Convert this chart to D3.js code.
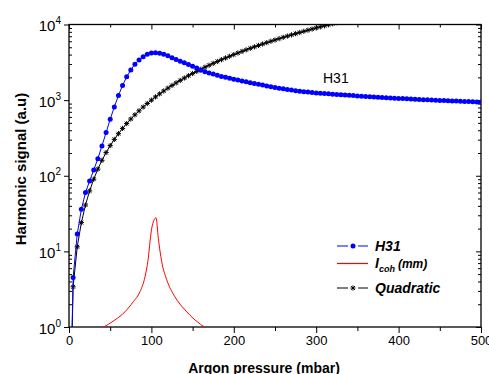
<!DOCTYPE html>
<html>
<head>
<meta charset="utf-8">
<script src="https://cdn.jsdelivr.net/npm/d3@7"></script>
<style>
  body { margin: 0; background: #fff; }
  svg { display: block; font-family: "Liberation Sans", Arial, sans-serif; }
</style>
</head>
<body>
<div id="chart-holder"></div>
<script>
// pressures (mbar) where H31 was measured, 0 is the start of the line only
var pressure = [0, 5, 10, 15, 20, 25, 30, 35, 40, 45, 50, 55, 60, 65, 70, 75, 80, 85, 90, 95, 100,
  105, 110, 115, 120, 125, 130, 135, 140, 145, 150, 155, 160, 165, 170, 175, 180, 185, 190, 195, 200,
  205, 210, 215, 220, 225, 230, 235, 240, 245, 250, 255, 260, 265, 270, 275, 280, 285, 290, 295, 300,
  305, 310, 315, 320, 325, 330, 335, 340, 345, 350, 355, 360, 365, 370, 375, 380, 385, 390, 395, 400,
  405, 410, 415, 420, 425, 430, 435, 440, 445, 450, 455, 460, 465, 470, 475, 480, 485, 490, 495, 500];

// H31 harmonic signal (a.u)
var h31 = [0.01, 4.5, 17, 36, 60, 85, 119, 168, 248, 372, 559, 813, 1150, 1560, 2030, 2510, 2990, 3400, 3760, 4050, 4200,
  4230, 4170, 4050, 3850, 3640, 3440, 3270, 3110, 2950, 2800, 2660, 2490, 2370, 2290, 2210, 2140, 2060, 2000, 1946, 1890,
  1840, 1790, 1745, 1703, 1660, 1620, 1580, 1540, 1505, 1470, 1440, 1410, 1383, 1357, 1333, 1312, 1293, 1276, 1260, 1246,
  1233, 1221, 1210, 1199, 1188, 1178, 1168, 1158, 1148, 1138, 1129, 1120, 1111, 1102, 1093, 1085, 1077, 1069, 1061, 1054,
  1047, 1040, 1033, 1027, 1021, 1015, 1009, 1003, 997, 992, 987, 982, 977, 972, 967, 962, 957, 952, 947, 942];

// quadratic reference (goes off the top near 320 mbar)
var quadratic = [0.01, 3.4, 11.5, 24, 41, 63, 90, 122.5, 160, 202.5, 250, 302.5, 360, 422.5, 490, 562.5, 640, 722.5, 810, 902.5, 1000,
  1102.5, 1210, 1322.5, 1440, 1562.5, 1690, 1822.5, 1960, 2102.5, 2250, 2402.5, 2560, 2722.5, 2890, 3062.5, 3240, 3422.5, 3610, 3802.5, 4000,
  4202.5, 4410, 4622.5, 4840, 5062.5, 5290, 5522.5, 5760, 6002.5, 6250, 6502.5, 6760, 7022.5, 7290, 7562.5, 7840, 8122.5, 8410, 8702.5, 9000,
  9302.5, 9610, 9922.5, 10240, 10562.5, 10890];

// coherence length curve
var cohPressure = [40, 55.8, 68, 78, 86.2, 92.2, 96.2, 98.3, 100.4, 105.6, 108.4, 112.5, 118.6, 128.6, 140.8, 152.9, 166];
var cohValue = [0.97, 1.24, 1.59, 2.16, 2.93, 4.6, 8.1, 13.4, 20.2, 27.9, 14.9, 7.3, 4.2, 2.5, 1.68, 1.24, 0.97];

var xTicks = [0, 100, 200, 300, 400, 500];
var xMinorTicks = [50, 150, 250, 350, 450];
var yTicks = [1, 10, 100, 1000, 10000];
var yExponents = ["0", "1", "2", "3", "4"];

var margin = { top: 24.5, right: 8, bottom: 47, left: 69 },
  width = 489 - margin.left - margin.right,
  height = 374 - margin.top - margin.bottom;

var svg = d3.select("#chart-holder")
  .append("svg")
  .attr("width", 489)
  .attr("height", 374)
  .append("g")
  .attr("transform", "translate(" + margin.left + "," + margin.top + ")");

var x = d3.scaleLinear().domain([0, 500]).range([0, width]);
var y = d3.scaleLog().domain([1, 10000]).range([height, 0]);

svg.append("clipPath").attr("id", "clip")
  .append("rect").attr("width", width).attr("height", height);

// minor log ticks
var yMinor = [];
yTicks.slice(0, 4).forEach(function (d) {
  for (var k = 2; k <= 9; k++) yMinor.push(d * k);
});

///////////////////////////////////////////////////////////////////////////////////////////
// axes
var bottomAxis = svg.append("g").attr("transform", "translate(0," + height + ")");
bottomAxis.call(d3.axisBottom(x).tickValues(xTicks).tickSize(6).tickPadding(3).tickFormat(d3.format("d")));
bottomAxis.append("g").call(d3.axisBottom(x).tickValues(xMinorTicks).tickSize(4).tickFormat(""));
bottomAxis.selectAll("text").style("font-size", "13px").style("fill", "#000");

var topAxis = svg.append("g");
topAxis.call(d3.axisBottom(x).tickValues(xTicks).tickSize(5).tickFormat(""));
topAxis.append("g").call(d3.axisBottom(x).tickValues(xMinorTicks).tickSize(3).tickFormat(""));

var leftAxis = svg.append("g");
leftAxis.call(d3.axisLeft(y).tickValues(yTicks).tickSize(5).tickFormat(""));
leftAxis.append("g").call(d3.axisRight(y).tickValues(yMinor).tickSize(3).tickFormat(""));

var rightAxis = svg.append("g").attr("transform", "translate(" + width + ",0)");
rightAxis.call(d3.axisLeft(y).tickValues(yTicks).tickSize(5).tickFormat(""));
rightAxis.append("g").call(d3.axisLeft(y).tickValues(yMinor).tickSize(3).tickFormat(""));

svg.selectAll(".domain").remove();
svg.selectAll(".tick line").style("stroke", "#000").style("stroke-width", 1);

svg.append("rect")
  .attr("width", width).attr("height", height)
  .style("fill", "none").style("stroke", "#000").style("stroke-width", 1.3);

// y tick labels as 10^n
yTicks.forEach(function (d, i) {
  var t = svg.append("text")
    .attr("x", -8).attr("y", y(d) + 6.5)
    .attr("text-anchor", "end")
    .style("font-size", "15px");
  t.append("tspan").text("10");
  t.append("tspan").attr("dy", -7).style("font-size", "10px").text(yExponents[i]);
});

svg.append("text")
  .attr("transform", "translate(" + (25.5 - margin.left) + "," + (169 - margin.top) + ")rotate(-90)")
  .attr("text-anchor", "middle")
  .style("font-size", "15px").style("font-weight", "bold")
  .text("Harmonic signal (a.u)");

svg.append("text")
  .attr("x", 264 - margin.left).attr("y", 373 - margin.top)
  .attr("text-anchor", "middle")
  .style("font-size", "14px").style("font-weight", "bold")
  .text("Argon pressure (mbar)");

///////////////////////////////////////////////////////////////////////////////////////////
// curves
var plot = svg.append("g").attr("clip-path", "url(#clip)");

var line = d3.line()
  .x(function (d) { return x(d[0]); })
  .y(function (d) { return y(d[1]); });

var quadData = quadratic.map(function (v, i) { return [pressure[i], v]; });
var h31Data = h31.map(function (v, i) { return [pressure[i], v]; });
var cohData = cohValue.map(function (v, i) { return [cohPressure[i], v]; });

var star = "M-2.6,0L2.6,0M0,-2.6L0,2.6M-1.9,-1.9L1.9,1.9M-1.9,1.9L1.9,-1.9";

plot.append("path").datum(quadData).attr("d", line)
  .style("fill", "none").style("stroke", "#000").style("stroke-width", 1);
plot.selectAll(".quad").data(quadData.slice(1)).enter().append("path")
  .attr("class", "quad")
  .attr("transform", function (d) { return "translate(" + x(d[0]) + "," + y(d[1]) + ")"; })
  .attr("d", star)
  .style("fill", "none").style("stroke", "#000").style("stroke-width", 1);

plot.append("path").datum(h31Data).attr("d", line)
  .style("fill", "none").style("stroke", "#0000ff").style("stroke-width", 1);
plot.selectAll(".h31").data(h31Data.slice(1)).enter().append("circle")
  .attr("class", "h31")
  .attr("cx", function (d) { return x(d[0]); })
  .attr("cy", function (d) { return y(d[1]); })
  .attr("r", 2.5)
  .style("fill", "#0000ff");

plot.append("path").datum(cohData).attr("d", line.curve(d3.curveMonotoneX))
  .style("fill", "none").style("stroke", "#ff0000").style("stroke-width", 1);

svg.append("text")
  .attr("x", 323 - margin.left).attr("y", 83 - margin.top)
  .style("font-size", "14px")
  .text("H31");

///////////////////////////////////////////////////////////////////////////////////////////
// legend
var legend = svg.append("g").attr("transform", "translate(" + (337 - margin.left) + "," + (246 - margin.top) + ")");
var rows = [
  { color: "#0000ff", marker: "dot", dy: 0 },
  { color: "#ff0000", marker: "none", dy: 17.5 },
  { color: "#000000", marker: "star", dy: 42 }
];
rows.forEach(function (r) {
  var g = legend.append("g").attr("transform", "translate(0," + r.dy + ")");
  if (r.marker == "none") {
    g.append("line").attr("x1", 0).attr("x2", 31)
      .style("stroke", r.color).style("stroke-width", 1.2);
  } else {
    g.append("line").attr("x1", 0).attr("x2", 11).style("stroke", r.color);
    g.append("line").attr("x1", 21).attr("x2", 31).style("stroke", r.color);
    if (r.marker == "dot") g.append("circle").attr("cx", 16).attr("r", 2.5).style("fill", r.color);
    else g.append("path").attr("transform", "translate(16,0)").attr("d", star)
      .style("fill", "none").style("stroke", r.color);
  }
});
legend.append("text").attr("x", 38).attr("y", 5)
  .style("font-size", "14px").style("font-weight", "bold").style("font-style", "italic")
  .text("H31");
var lc = legend.append("text").attr("x", 38).attr("y", 22)
  .style("font-weight", "bold").style("font-style", "italic");
lc.append("tspan").style("font-size", "14px").text("I");
lc.append("tspan").attr("dy", 4).style("font-size", "9px").text("coh");
lc.append("tspan").attr("dy", -4).attr("dx", 3).style("font-size", "12px").text("(mm)");
legend.append("text").attr("x", 38).attr("y", 47)
  .style("font-size", "14px").style("font-weight", "bold").style("font-style", "italic")
  .text("Quadratic");
</script>
</body>
</html>
